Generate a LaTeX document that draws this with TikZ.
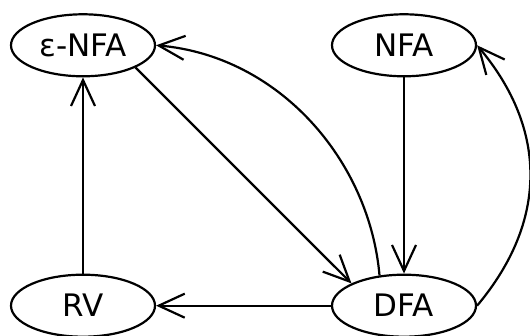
\documentclass[tikz,border=0pt]{standalone}
\usepackage{fontspec}
\setmainfont{DejaVu Sans}
\usetikzlibrary{shapes.geometric,arrows.meta}
\begin{document}
\begin{tikzpicture}[x=1pt,y=1pt,
  st/.style={ellipse,draw,line width=2.2pt,minimum width=144pt,minimum height=62pt,inner sep=0pt,font=\fontsize{31}{31}\selectfont},
  ed/.style={line width=2.2pt,-{Straight Barb[length=26pt,width=24pt,line width=2.2pt]}}]
\useasboundingbox (0,0) rectangle (530,336);
\node[st] (e) at (83,290.7) {ε-NFA};
\node[st] (nfa) at (404,290.7) {NFA};
\node[st] (rv) at (83,30.3) {RV};
\node[st] (dfa) at (404,30.3) {DFA};
\draw[ed] (e.-23) -- (dfa.157);
\draw[ed] (nfa.south) -- (dfa.north);
\draw[ed] (dfa.west) -- (rv.east);
\draw[ed] (rv.north) -- (e.south);
\draw[ed] (dfa.129) .. controls +(95:115) and +(-5:124) .. (e.east);
\draw[ed] (dfa.east) .. controls +(50:110) and +(-50:110) .. (nfa.east);
\end{tikzpicture}
\end{document}
